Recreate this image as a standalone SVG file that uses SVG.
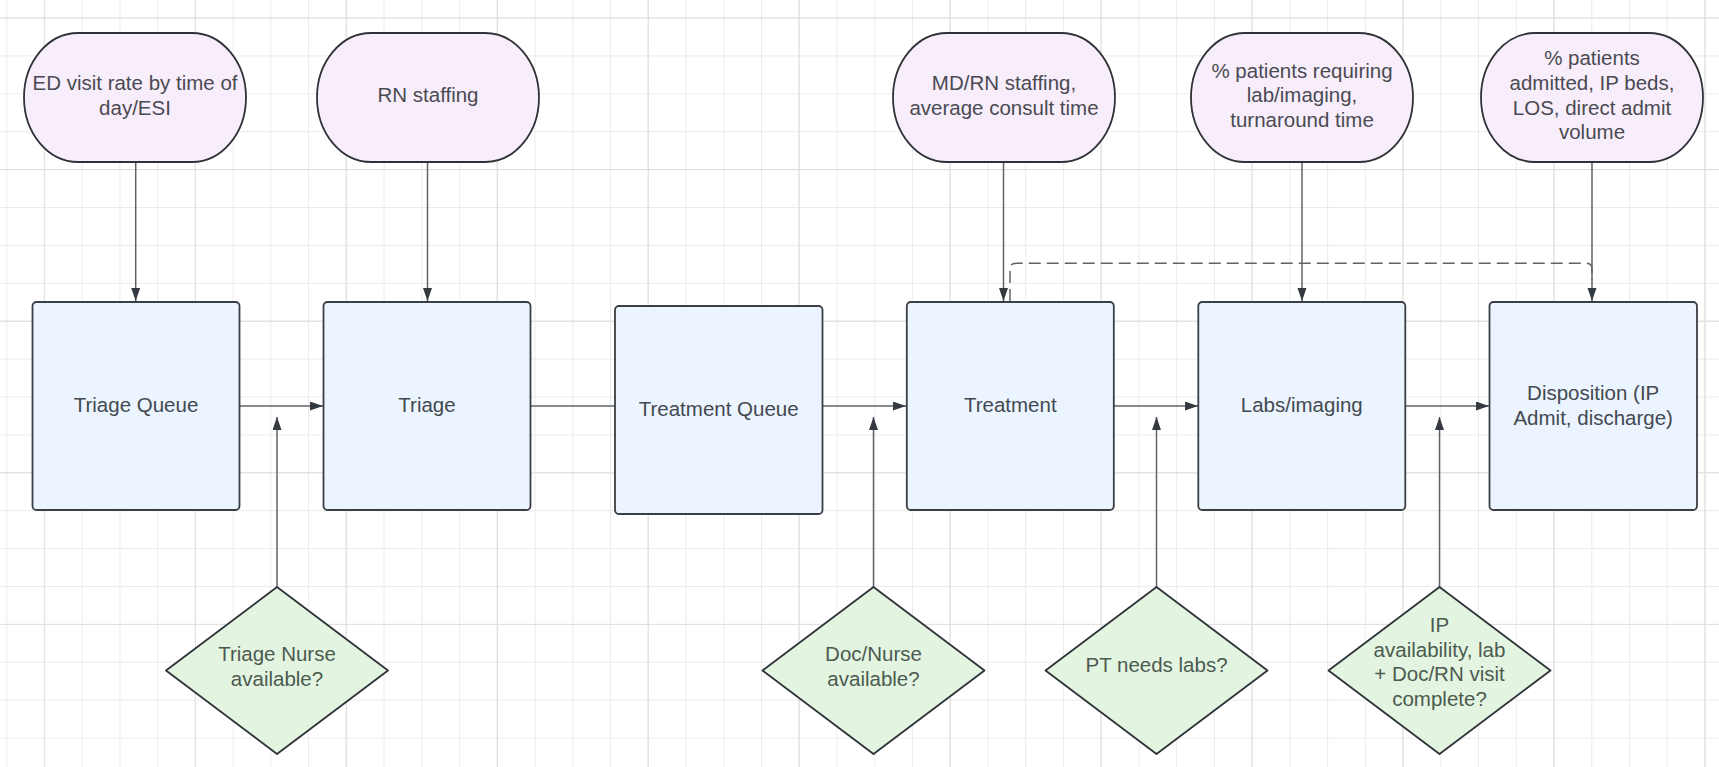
<svg xmlns="http://www.w3.org/2000/svg" width="1719" height="767" viewBox="0 0 1719 767">
<defs>
<pattern id="gMinor" patternUnits="userSpaceOnUse" x="6.2" y="17.5" width="37.74" height="37.9">
<path d="M0 0.5 H37.74 M0.5 0 V37.9" fill="none" stroke="#ebebeb" stroke-width="1"/>
</pattern>
<pattern id="gMajor" patternUnits="userSpaceOnUse" x="43.8" y="17.5" width="150.96" height="151.6">
<path d="M0 0.5 H150.96 M0.5 0 V151.6" fill="none" stroke="#dedede" stroke-width="1"/>
</pattern>
<marker id="arr" markerUnits="userSpaceOnUse" markerWidth="14" markerHeight="10" refX="13" refY="4.5" orient="auto">
<path d="M0,0 L13,4.5 L0,9 z" fill="#343a40"/>
</marker>
<style>
.box{fill:#EBF4FF;stroke:#3a3f45;stroke-width:1.8}
.oval{fill:#F8EEFB;stroke:#2f3338;stroke-width:1.8}
.dia{fill:#E3F5E1;stroke:#2f3338;stroke-width:1.8;stroke-linejoin:round}
.t{font-family:"Liberation Sans",Arial,sans-serif;font-size:20.5px;text-anchor:middle}
.tb{fill:#434951}
.to{fill:#4a4a52}
.td{fill:#4c5a50}
.c{fill:none;stroke:#5f646a;stroke-width:1.5}
.dash{fill:none;stroke:#5f646a;stroke-width:1.5;stroke-dasharray:12 6}
</style>
</defs>
<rect width="1719" height="767" fill="#ffffff"/>
<rect width="1719" height="767" fill="url(#gMinor)"/>
<rect width="1719" height="767" fill="url(#gMajor)"/>

<g id="connectors">
<line class="c" x1="135.7" y1="162" x2="135.7" y2="301" marker-end="url(#arr)"/>
<line class="c" x1="427.5" y1="162" x2="427.5" y2="301" marker-end="url(#arr)"/>
<line class="c" x1="1003.5" y1="162" x2="1003.5" y2="301" marker-end="url(#arr)"/>
<line class="c" x1="1302" y1="162" x2="1302" y2="301" marker-end="url(#arr)"/>
<line class="c" x1="1592" y1="162" x2="1592" y2="301" marker-end="url(#arr)"/>
<path class="dash" d="M1010,301 V269 Q1010,263.3 1016,263.3 H1586 Q1592,263.3 1592,269 V280"/>
<line class="c" x1="240" y1="406" x2="323" y2="406" marker-end="url(#arr)"/>
<line class="c" x1="531" y1="406" x2="615" y2="406"/>
<line class="c" x1="823" y1="406" x2="906" y2="406" marker-end="url(#arr)"/>
<line class="c" x1="1114" y1="406" x2="1198" y2="406" marker-end="url(#arr)"/>
<line class="c" x1="1406" y1="406" x2="1489" y2="406" marker-end="url(#arr)"/>
<line class="c" x1="277" y1="587" x2="277" y2="417" marker-end="url(#arr)"/>
<line class="c" x1="873.5" y1="587" x2="873.5" y2="417" marker-end="url(#arr)"/>
<line class="c" x1="1156.5" y1="587" x2="1156.5" y2="417" marker-end="url(#arr)"/>
<line class="c" x1="1439.5" y1="587" x2="1439.5" y2="417" marker-end="url(#arr)"/>
</g>

<g id="oval-ed">
<rect class="oval" x="24" y="33" width="222" height="129" rx="54" ry="64.5"/>
<text class="t to" x="135" y="89.9">ED visit rate by time of</text>
<text class="t to" x="135" y="114.5">day/ESI</text>
</g>
<g id="oval-rn">
<rect class="oval" x="317" y="33" width="222" height="129" rx="54" ry="64.5"/>
<text class="t to" x="428" y="102.2">RN staffing</text>
</g>
<g id="oval-mdrn">
<rect class="oval" x="893" y="33" width="222" height="129" rx="54" ry="64.5"/>
<text class="t to" x="1004" y="89.9">MD/RN staffing,</text>
<text class="t to" x="1004" y="114.5">average consult time</text>
</g>
<g id="oval-labs">
<rect class="oval" x="1191" y="33" width="222" height="129" rx="54" ry="64.5"/>
<text class="t to" x="1302" y="77.6">% patients requiring</text>
<text class="t to" x="1302" y="102.2">lab/imaging,</text>
<text class="t to" x="1302" y="126.8">turnaround time</text>
</g>
<g id="oval-admit">
<rect class="oval" x="1481" y="33" width="222" height="129" rx="54" ry="64.5"/>
<text class="t to" x="1592" y="65.3">% patients</text>
<text class="t to" x="1592" y="89.9">admitted, IP beds,</text>
<text class="t to" x="1592" y="114.5">LOS, direct admit</text>
<text class="t to" x="1592" y="139.1">volume</text>
</g>

<g id="box-triage-queue">
<rect class="box" x="32.5" y="302" width="207" height="208" rx="4"/>
<text class="t tb" x="136" y="411.7">Triage Queue</text>
</g>
<g id="box-triage">
<rect class="box" x="323.5" y="302" width="207" height="208" rx="4"/>
<text class="t tb" x="427" y="411.7">Triage</text>
</g>
<g id="box-treatment-queue">
<rect class="box" x="615" y="306" width="207.5" height="208" rx="4"/>
<text class="t tb" x="718.7" y="415.5">Treatment Queue</text>
</g>
<g id="box-treatment">
<rect class="box" x="906.8" y="302" width="207" height="208" rx="4"/>
<text class="t tb" x="1010.3" y="411.7">Treatment</text>
</g>
<g id="box-labs">
<rect class="box" x="1198.3" y="302" width="207" height="208" rx="4"/>
<text class="t tb" x="1301.8" y="411.7">Labs/imaging</text>
</g>
<g id="box-disposition">
<rect class="box" x="1489.5" y="302" width="207.5" height="208" rx="4"/>
<text class="t tb" x="1593.2" y="399.9">Disposition (IP</text>
<text class="t tb" x="1593.2" y="424.5">Admit, discharge)</text>
</g>

<g id="dia-triage-nurse">
<path class="dia" d="M277,587 L388,670.5 L277,754 L166,670.5 Z"/>
<text class="t td" x="277" y="660.9">Triage Nurse</text>
<text class="t td" x="277" y="685.5">available?</text>
</g>
<g id="dia-doc-nurse">
<path class="dia" d="M873.5,587 L984.5,670.5 L873.5,754 L762.5,670.5 Z"/>
<text class="t td" x="873.5" y="660.9">Doc/Nurse</text>
<text class="t td" x="873.5" y="685.5">available?</text>
</g>
<g id="dia-pt-labs">
<path class="dia" d="M1156.5,587 L1267.5,670.5 L1156.5,754 L1045.5,670.5 Z"/>
<text class="t td" x="1156.5" y="672.2">PT needs labs?</text>
</g>
<g id="dia-ip">
<path class="dia" d="M1439.5,587 L1550.5,670.5 L1439.5,754 L1328.5,670.5 Z"/>
<text class="t td" x="1439.5" y="632">IP</text>
<text class="t td" x="1439.5" y="656.6">availability, lab</text>
<text class="t td" x="1439.5" y="681.2">+ Doc/RN visit</text>
<text class="t td" x="1439.5" y="705.8">complete?</text>
</g>
</svg>
